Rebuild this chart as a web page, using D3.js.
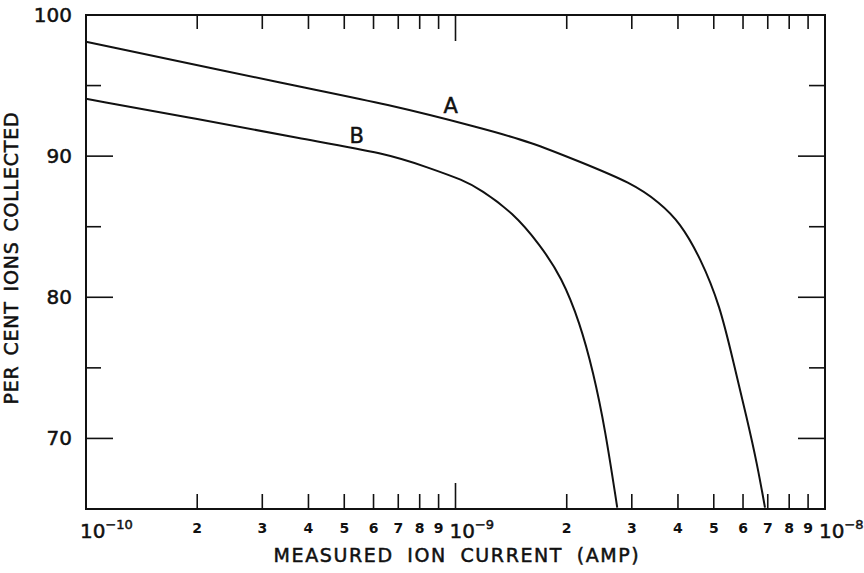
<!DOCTYPE html>
<html>
<head>
<meta charset="utf-8">
<script src="https://cdn.jsdelivr.net/npm/d3@7"></script>
<style>
  body { margin: 0; background: #fff; }
  text { font-family: "DejaVu Sans", sans-serif; fill: #111; }
  .heavy { stroke: #111; stroke-width: 0.5; }
</style>
</head>
<body>
<svg id="chart" width="864" height="573"></svg>
<script>
// curve A: [current (amp), per cent collected]
var curveA = [
  [1.0e-10, 98.1], [3.8e-10, 94.9], [6.5e-10, 93.7], [1.17e-9, 92.0],
  [1.6e-9, 91.0], [2.17e-9, 89.6], [3.0e-9, 88.1], [3.57e-9, 86.7],
  [4.05e-9, 85.3], [4.6e-9, 82.8], [5.2e-9, 79.4], [5.65e-9, 75.4],
  [6.15e-9, 71.4], [6.55e-9, 68.2], [6.88e-9, 65.1]
];
// curve B
var curveB = [
  [1.0e-10, 94.06], [2.0e-10, 92.65], [3.8e-10, 91.24], [6.5e-10, 90.2],
  [8.5e-10, 89.16], [1.05e-9, 88.3], [1.17e-9, 87.63], [1.43e-9, 86.0],
  [1.69e-9, 83.75], [1.94e-9, 81.4], [2.17e-9, 78.2], [2.36e-9, 74.7],
  [2.54e-9, 70.7], [2.74e-9, 65.1]
];
var curveLabels = [
  { name: 'A', x: 9.7e-10, y: 93.07 },
  { name: 'B', x: 5.4e-10, y: 90.95 }
];

var decades = [-10, -9, -8];          // labelled powers of ten
var minorMults = [2, 3, 4, 5, 6, 7, 8, 9];
var yMajor = [70, 80, 90, 100];
var yMinor = [75, 85, 95];

var svg = d3.select('#chart');
var plotL = 86, plotR = 825, plotT = 15, plotB = 509;

var x = d3.scaleLog().domain([1e-10, 1e-8]).range([plotL, plotR]);
var y = d3.scaleLinear().domain([65, 100]).range([plotB, plotT]);

/*** frame ***/
svg.append('rect')
  .attr('x', plotL).attr('y', plotT)
  .attr('width', plotR - plotL).attr('height', plotB - plotT)
  .attr('fill', 'none').attr('stroke', '#111').attr('stroke-width', 2);

/*** x ticks, top and bottom ***/
var xMinor = [];
decades.slice(0, 2).forEach(function(p) {
  minorMults.forEach(function(m) { xMinor.push({ v: m * Math.pow(10, p), m: m }); });
});
var xMajorInner = decades.slice(1, 2).map(function(p) { return Math.pow(10, p); });

var ticks = svg.append('g').attr('stroke', '#111').attr('stroke-width', 1.6);
xMinor.forEach(function(d) {
  ticks.append('line').attr('x1', x(d.v)).attr('x2', x(d.v)).attr('y1', plotB).attr('y2', plotB - 15);
  ticks.append('line').attr('x1', x(d.v)).attr('x2', x(d.v)).attr('y1', plotT).attr('y2', plotT + 14);
});
xMajorInner.forEach(function(v) {
  ticks.append('line').attr('x1', x(v)).attr('x2', x(v)).attr('y1', plotB).attr('y2', plotB - 26);
  ticks.append('line').attr('x1', x(v)).attr('x2', x(v)).attr('y1', plotT).attr('y2', plotT + 26);
});

/*** y ticks, left and right ***/
yMajor.filter(function(v) { return v < 100; }).forEach(function(v) {
  ticks.append('line').attr('x1', plotL).attr('x2', plotL + 27).attr('y1', y(v)).attr('y2', y(v));
  ticks.append('line').attr('x1', plotR).attr('x2', plotR - 27).attr('y1', y(v)).attr('y2', y(v));
});
yMinor.forEach(function(v) {
  ticks.append('line').attr('x1', plotL).attr('x2', plotL + 15).attr('y1', y(v)).attr('y2', y(v));
  ticks.append('line').attr('x1', plotR).attr('x2', plotR - 16).attr('y1', y(v)).attr('y2', y(v));
});

/*** x tick labels ***/
svg.selectAll('.minor-label')
  .data(xMinor)
  .enter().append('text')
  .attr('class', 'minor-label')
  .attr('x', function(d) { return x(d.v); })
  .attr('y', 533)
  .attr('text-anchor', 'middle')
  .attr('font-size', 14)
  .attr('font-weight', 'bold')
  .text(function(d) { return d.m; });

decades.forEach(function(p) {
  var t = svg.append('text')
    .attr('class', 'heavy')
    .attr('x', x(Math.pow(10, p)) - 6)
    .attr('y', 538)
    .attr('font-size', 20);
  t.append('tspan').text('10');
  t.append('tspan').attr('font-size', 13).attr('dy', -9).text('\u2212' + (-p));
});

/*** y tick labels ***/
svg.selectAll('.y-label')
  .data(yMajor)
  .enter().append('text')
  .attr('class', 'y-label heavy')
  .attr('x', 72)
  .attr('y', function(d) { return y(d) + 7; })
  .attr('text-anchor', 'end')
  .attr('font-size', 20)
  .text(function(d) { return d; });

/*** axis titles ***/
svg.append('text')
  .attr('class', 'heavy')
  .attr('x', 457).attr('y', 562)
  .attr('text-anchor', 'middle')
  .attr('font-size', 19)
  .attr('letter-spacing', 1.6)
  .attr('word-spacing', 6)
  .text('MEASURED ION CURRENT (AMP)');

svg.append('text')
  .attr('class', 'heavy')
  .attr('transform', 'translate(18,258) rotate(-90)')
  .attr('text-anchor', 'middle')
  .attr('font-size', 19)
  .attr('letter-spacing', 0.8)
  .attr('word-spacing', 3)
  .text('PER CENT IONS COLLECTED');

/*** curves ***/
var line = d3.line()
  .x(function(d) { return x(d[0]); })
  .y(function(d) { return y(d[1]); })
  .curve(d3.curveBasis);

[curveA, curveB].forEach(function(c) {
  svg.append('path')
    .attr('d', line(c))
    .attr('fill', 'none')
    .attr('stroke', '#111')
    .attr('stroke-width', 2);
});

svg.selectAll('.curve-label')
  .data(curveLabels)
  .enter().append('text')
  .attr('class', 'curve-label heavy')
  .attr('x', function(d) { return x(d.x); })
  .attr('y', function(d) { return y(d.y); })
  .attr('text-anchor', 'middle')
  .attr('font-size', 21)
  .text(function(d) { return d.name; });
</script>
</body>
</html>
